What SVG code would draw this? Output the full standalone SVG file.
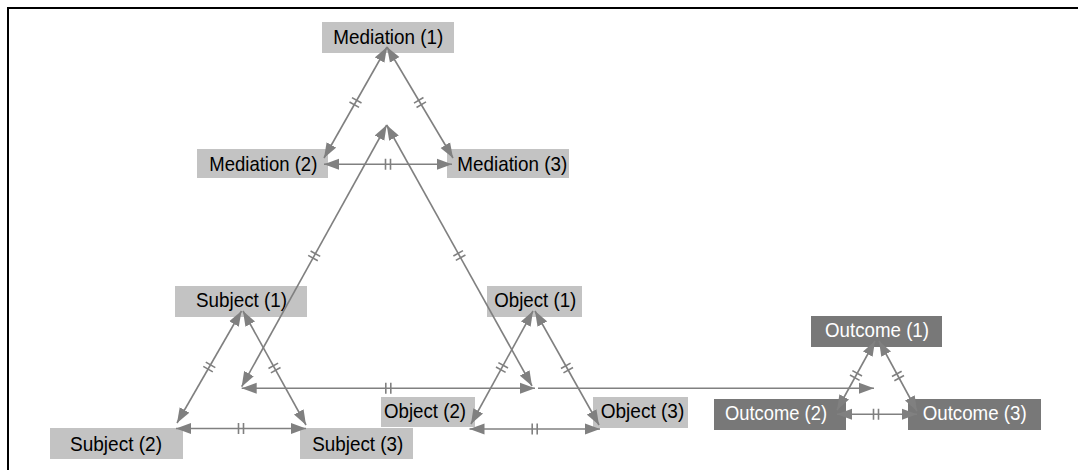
<svg xmlns="http://www.w3.org/2000/svg" xmlns:xlink="http://www.w3.org/1999/xlink" width="1078" height="470" viewBox="0 0 1078 470">
<style>
.box{fill:#c3c3c3;}
.dark{fill:#787878;}
.lbl{font-family:"Liberation Sans",Arial,sans-serif;font-size:21px;fill:#000;}
.lblw{font-family:"Liberation Sans",Arial,sans-serif;font-size:21px;fill:#fff;}
.c{stroke:#808080;stroke-width:1.6;fill:none;}
.both{marker-start:url(#ah);marker-end:url(#ah);}
.one{marker-end:url(#ah);}
.tk{stroke:#808080;stroke-width:1.6;fill:none;}
</style>
<defs>
<marker id="ah" markerUnits="userSpaceOnUse" markerWidth="16" markerHeight="12" refX="15" refY="6" orient="auto-start-reverse">
<path d="M0,0.5 L15,6 L0,11.5 z" fill="#808080"/>
</marker>
<path id="tick" d="M-2.5,-5.5 V5.5 M2.5,-5.5 V5.5" class="tk"/>
</defs>
<rect width="1078" height="470" fill="#fff"/>
<path d="M8,470 V8 H1078" fill="none" stroke="#000" stroke-width="2"/>

<g id="med1"><rect class="box" x="322" y="22" width="132" height="31"/><text class="lbl" x="333.3" y="43.5" textLength="110" lengthAdjust="spacingAndGlyphs">Mediation (1)</text></g>
<g id="med2"><rect class="box" x="197" y="149" width="131" height="29"/><text class="lbl" x="209.3" y="171" textLength="108" lengthAdjust="spacingAndGlyphs">Mediation (2)</text></g>
<g id="med3"><rect class="box" x="447" y="149" width="122" height="29"/><text class="lbl" x="457.3" y="171" textLength="110" lengthAdjust="spacingAndGlyphs">Mediation (3)</text></g>
<g id="sub1"><rect class="box" x="175" y="286" width="132" height="31"/><text class="lbl" x="196" y="307" textLength="91" lengthAdjust="spacingAndGlyphs">Subject (1)</text></g>
<g id="sub2"><rect class="box" x="50" y="428" width="133" height="31"/><text class="lbl" x="70" y="450.5" textLength="92" lengthAdjust="spacingAndGlyphs">Subject (2)</text></g>
<g id="sub3"><rect class="box" x="300" y="428" width="113" height="31"/><text class="lbl" x="312.3" y="450.5" textLength="91" lengthAdjust="spacingAndGlyphs">Subject (3)</text></g>
<g id="obj1"><rect class="box" x="487" y="286" width="95" height="31"/><text class="lbl" x="494.3" y="307" textLength="82" lengthAdjust="spacingAndGlyphs">Object (1)</text></g>
<g id="obj2"><rect class="box" x="381" y="397" width="94" height="30"/><text class="lbl" x="384" y="418" textLength="82" lengthAdjust="spacingAndGlyphs">Object (2)</text></g>
<g id="obj3"><rect class="box" x="593" y="397" width="95" height="31"/><text class="lbl" x="600.7" y="418" textLength="83.6" lengthAdjust="spacingAndGlyphs">Object (3)</text></g>
<g id="out1"><rect class="dark" x="811" y="316" width="131" height="31"/><text class="lblw" x="825" y="337" textLength="104" lengthAdjust="spacingAndGlyphs">Outcome (1)</text></g>
<g id="out2"><rect class="dark" x="714" y="399" width="132" height="31"/><text class="lblw" x="725" y="420" textLength="102" lengthAdjust="spacingAndGlyphs">Outcome (2)</text></g>
<g id="out3"><rect class="dark" x="908" y="399" width="133" height="31"/><text class="lblw" x="922.7" y="420" textLength="104" lengthAdjust="spacingAndGlyphs">Outcome (3)</text></g>

<g id="connectors">
<line class="c both" x1="387" y1="47" x2="324" y2="158"/>
<use xlink:href="#tick" transform="translate(355.5,102.5) rotate(119.6)"/>
<line class="c both" x1="387" y1="47" x2="453" y2="158"/>
<use xlink:href="#tick" transform="translate(420,102.5) rotate(59.3)"/>
<line class="c both" x1="324" y1="164.3" x2="452" y2="164.3"/>
<use xlink:href="#tick" transform="translate(388,164.3)"/>

<line class="c both" x1="386.7" y1="125" x2="241.7" y2="386.7"/>
<use xlink:href="#tick" transform="translate(314.2,255.9) rotate(119)"/>
<line class="c both" x1="386.7" y1="125" x2="532" y2="386"/>
<use xlink:href="#tick" transform="translate(459.4,255.5) rotate(60.9)"/>
<line class="c both" x1="241.7" y1="388.3" x2="535" y2="388.3"/>
<use xlink:href="#tick" transform="translate(388.3,388.3)"/>
<line class="c one" x1="538" y1="388.3" x2="874" y2="388.3"/>

<line class="c both" x1="241.5" y1="311" x2="177" y2="423"/>
<use xlink:href="#tick" transform="translate(209.3,367) rotate(119.9)"/>
<line class="c both" x1="243" y1="311" x2="306" y2="425"/>
<use xlink:href="#tick" transform="translate(274.5,368) rotate(61.1)"/>
<line class="c both" x1="176" y1="428.5" x2="306" y2="428.5"/>
<use xlink:href="#tick" transform="translate(241,428.5)"/>

<line class="c both" x1="533" y1="311" x2="471" y2="424"/>
<use xlink:href="#tick" transform="translate(502,367.5) rotate(118.75)"/>
<line class="c both" x1="535" y1="311" x2="599" y2="425"/>
<use xlink:href="#tick" transform="translate(567,368) rotate(60.7)"/>
<line class="c both" x1="469.5" y1="429" x2="600" y2="429"/>
<use xlink:href="#tick" transform="translate(534.7,429)"/>

<line class="c both" x1="875" y1="341" x2="837" y2="410"/>
<use xlink:href="#tick" transform="translate(856,375.5) rotate(118.8)"/>
<line class="c both" x1="879" y1="341" x2="917" y2="411"/>
<use xlink:href="#tick" transform="translate(898,376) rotate(61.5)"/>
<line class="c both" x1="837" y1="414.3" x2="917" y2="414.3"/>
<use xlink:href="#tick" transform="translate(876,414.3)"/>
</g>
</svg>
